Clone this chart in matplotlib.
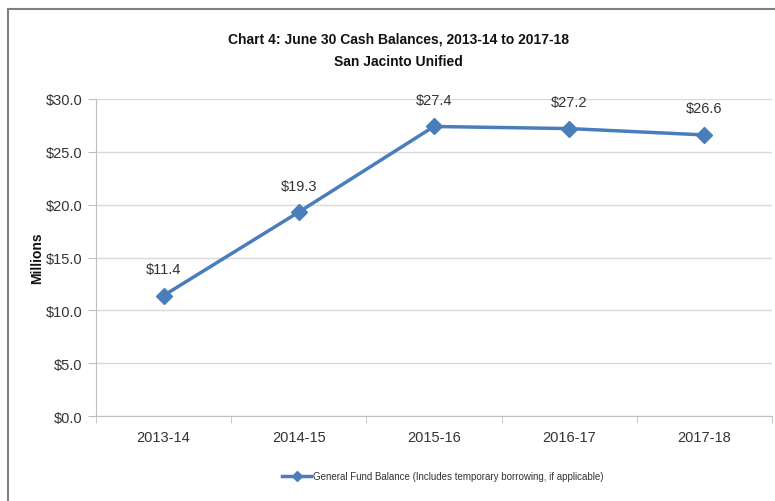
import matplotlib
matplotlib.use("Agg")
import matplotlib.pyplot as plt
from matplotlib.lines import Line2D

plt.rcParams['font.family'] = ['Liberation Sans', 'DejaVu Sans']

categories = ["2013-14", "2014-15", "2015-16", "2016-17", "2017-18"]
values = [11.4, 19.3, 27.4, 27.2, 26.6]
labels = ["$11.4", "$19.3", "$27.4", "$27.2", "$26.6"]
yticks = [0, 5, 10, 15, 20, 25, 30]
ytick_labels = ["$0.0", "$5.0", "$10.0", "$15.0", "$20.0", "$25.0", "$30.0"]
series_name = "General Fund Balance (Includes temporary borrowing, if applicable)"
title = "Chart 4: June 30 Cash Balances, 2013-14 to 2017-18\nSan Jacinto Unified"

color = "#4a7ebb"
txt = '#333333'
fig = plt.figure(figsize=(7.75, 5.02), dpi=100)
ax = fig.add_axes([96/775, 1-417/502, (772-96)/775, (417-100)/502])

x = list(range(len(categories)))
ax.plot(x, values, color=color, lw=2.5, marker='D', ms=8, mec=color, mfc=color)
for xi, v, lab in zip(x, values, labels):
    ax.annotate(lab, (xi, v), xytext=(0, 14), textcoords='offset points',
                ha='center', va='bottom', fontsize=10.5, color=txt)

ax.set_xlim(-0.5, len(categories)-0.5)
ax.set_ylim(0, 30)
ax.set_yticks(yticks)
ax.set_yticklabels(ytick_labels, fontsize=10.5, color=txt)
ax.set_xticks(x)
ax.set_xticklabels(categories, fontsize=10.5, color=txt)
ax.tick_params(axis='x', length=0, pad=10)
ax.set_xticks([i - 0.5 for i in range(len(categories)+1)], minor=True)
ax.tick_params(axis='x', which='minor', length=5, color='#bfbfbf')
ax.tick_params(axis='y', length=6, color='#bfbfbf', pad=4)
ax.grid(axis='y', color='#d9d9d9', lw=1)
ax.set_axisbelow(True)
for s in ['top', 'right']:
    ax.spines[s].set_visible(False)
ax.spines['left'].set_color('#bfbfbf')
ax.spines['bottom'].set_color('#bfbfbf')

ax.set_ylabel("Millions", fontsize=10, fontweight='bold', labelpad=1, color='#111111')

fig.text(398/775, 1-51/502, title, ha='center', va='center', fontsize=10,
         fontweight='bold', linespacing=1.75, color='#111111')

h = Line2D([], [], color=color, lw=2.5, marker='D', ms=5, mec=color, mfc=color)
fig.legend([h], [series_name], loc='center', bbox_to_anchor=(443/775, 1-477/502),
           frameon=False, fontsize=7, handlelength=3, handletextpad=0.2,
           labelcolor=txt)

# outer border
fig.add_artist(Line2D([8/775, 8/775], [0, 1-10/502], color='#808080', lw=1.5, transform=fig.transFigure))
fig.add_artist(Line2D([8/775, 1], [1-10/502, 1-10/502], color='#808080', lw=1.5, transform=fig.transFigure))

fig.savefig("out.png", dpi=100)
